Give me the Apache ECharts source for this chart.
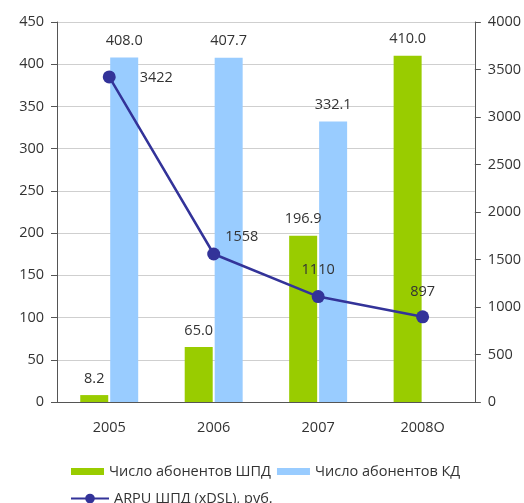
<!DOCTYPE html>
<html>
<head>
<meta charset="utf-8">
<style>
  html, body { margin: 0; padding: 0; background: #fff; }
  #chart { width: 524px; height: 503px; }
</style>
<script src="https://cdn.jsdelivr.net/npm/echarts@6/dist/echarts.min.js"></script>
</head>
<body>
<div id="chart"></div>
<script>
// Годы
const years = ['2005', '2006', '2007', '2008O'];
// Число абонентов ШПД, тыс.
const subsBroadband = [8.2, 65.0, 196.9, 410.0];
// Число абонентов КД, тыс.
const subsDialup = [408.0, 407.7, 332.1, null];
// ARPU ШПД (xDSL), руб.
const arpu = [3422, 1558, 1110, 897];

const font = '"Open Sans", "Noto Sans", sans-serif';
const fs = 14.5;
const textColor = '#333333';

// per-point placement of the ARPU labels
const arpuLabelOffsets = [[19, 1], [0, -17], [0, -27], [0, -25]];
const arpuLabelPos = ['right', 'right', 'inside', 'inside'];

const chart = echarts.init(document.getElementById('chart'));
chart.setOption({
  animation: false,
  textStyle: { fontFamily: font },
  grid: { left: 57, right: 49, top: 22, bottom: 101 },
  legend: [
    {
      data: ['Число абонентов ШПД', 'Число абонентов КД'],
      left: 66, top: 459,
      icon: 'rect',
      itemWidth: 33, itemHeight: 7, itemGap: 6,
      textStyle: { fontFamily: font, fontSize: fs, color: textColor }
    },
    {
      data: ['ARPU ШПД (xDSL), руб.'],
      left: 65, top: 486,
      itemWidth: 38, itemHeight: 12,
      textStyle: { fontFamily: font, fontSize: fs, color: textColor }
    }
  ],
  xAxis: {
    type: 'category',
    data: years,
    axisLine: { lineStyle: { color: '#555', width: 1 } },
    axisTick: { alignWithLabel: false, length: 6, lineStyle: { color: '#555' } },
    axisLabel: { margin: 18, fontSize: fs, color: textColor, fontFamily: font }
  },
  yAxis: [
    {
      type: 'value', min: 0, max: 450, interval: 50,
      axisLine: { show: true, lineStyle: { color: '#555' } },
      axisTick: { show: true, length: 6, lineStyle: { color: '#555' } },
      axisLabel: { margin: 13, fontSize: fs, color: textColor, fontFamily: font },
      splitLine: { show: true, lineStyle: { color: '#cfcfcf' } }
    },
    {
      type: 'value', min: 0, max: 4000, interval: 500,
      position: 'right',
      axisLine: { show: true, lineStyle: { color: '#555' } },
      axisTick: { show: true, length: 6, lineStyle: { color: '#555' } },
      axisLabel: {
        margin: 13, fontSize: fs, color: textColor, fontFamily: font,
        formatter: v => String(v)
      },
      splitLine: { show: false }
    }
  ],
  series: [
    {
      name: 'Число абонентов ШПД',
      type: 'bar',
      data: subsBroadband,
      barWidth: 28,
      barGap: '7%',
      itemStyle: { color: '#99cc00' },
      label: {
        show: true, position: 'top', distance: 9,
        fontSize: fs, color: textColor, fontFamily: font,
        formatter: p => p.value.toFixed(1)
      }
    },
    {
      name: 'Число абонентов КД',
      type: 'bar',
      data: subsDialup,
      barWidth: 28,
      itemStyle: { color: '#99ccff' },
      label: {
        show: true, position: 'top', distance: 9,
        fontSize: fs, color: textColor, fontFamily: font,
        formatter: p => (p.value == null ? '' : p.value.toFixed(1))
      }
    },
    {
      name: 'ARPU ШПД (xDSL), руб.',
      type: 'line',
      yAxisIndex: 1,
      data: arpu.map((v, i) => ({
        value: v,
        label: { position: arpuLabelPos[i], offset: arpuLabelOffsets[i] }
      })),
      symbol: 'circle',
      symbolSize: 13,
      lineStyle: { color: '#333399', width: 2.5 },
      itemStyle: { color: '#333399' },
      label: {
        show: true, fontSize: fs, color: textColor, fontFamily: font
      },
      z: 5
    }
  ]
});
</script>
</body>
</html>
